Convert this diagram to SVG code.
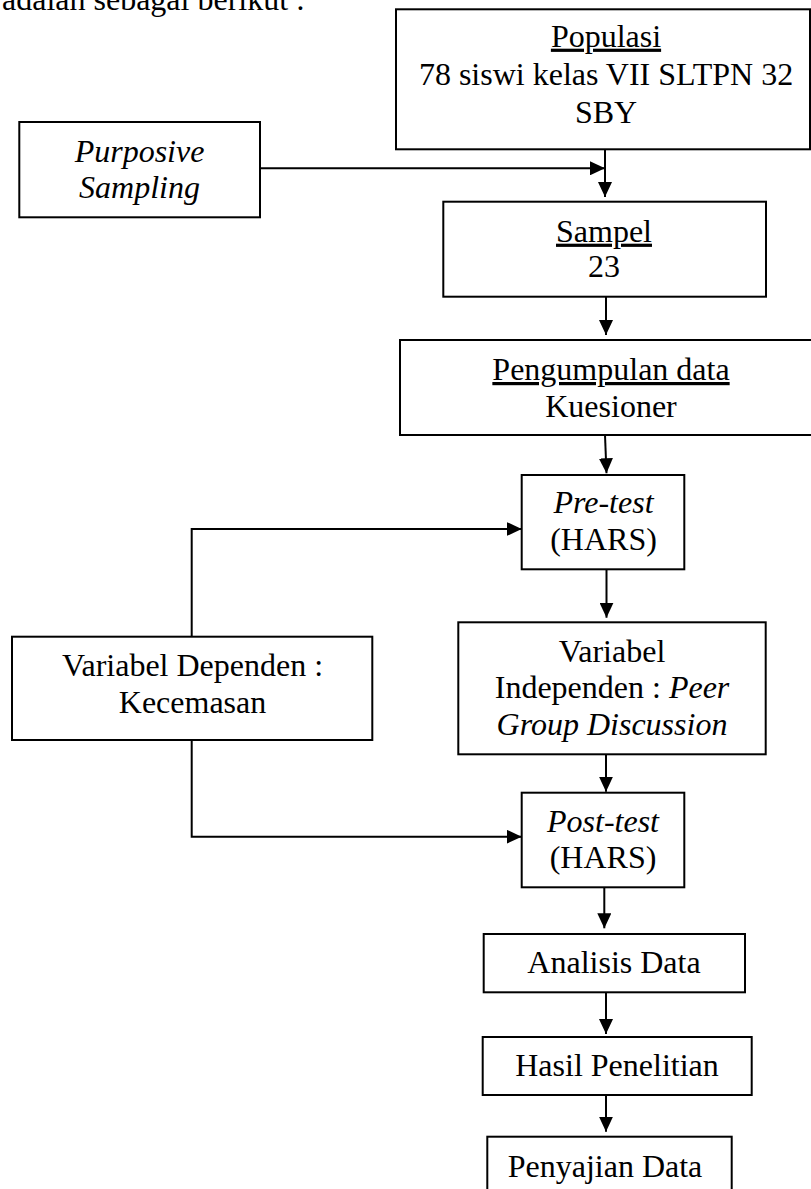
<svg xmlns="http://www.w3.org/2000/svg" width="811" height="1189" viewBox="0 0 811 1189">
  <style>
    .box { fill: #ffffff; stroke: #000000; stroke-width: 2; }
    .t { font-family: "Liberation Serif", "Times New Roman", serif; font-size: 32px; fill: #000000; text-anchor: middle; }
    .i { font-style: italic; }
    .u { text-decoration: underline; }
    .c { fill: none; stroke: #000000; stroke-width: 2; marker-end: url(#arrow); }
    .cn { fill: none; stroke: #000000; stroke-width: 2; }
  </style>
  <defs>
    <marker id="arrow" markerUnits="userSpaceOnUse" markerWidth="15" markerHeight="14" refX="15" refY="7" orient="auto">
      <path d="M0,0 L15,7 L0,14 z" fill="#000000"/>
    </marker>
  </defs>
  <rect width="811" height="1189" fill="#ffffff"/>
  <text class="t" x="2" y="10" style="text-anchor:start">adalah sebagai berikut :</text>

  <g id="connectors">
    <path class="c" d="M260,168.3 H605"/>
    <path class="c" d="M605,149.3 V197"/>
    <path class="c" d="M606,296.7 V335"/>
    <path class="c" d="M605,435 L606.5,473.3"/>
    <path class="c" d="M191.7,636.7 V529 H521.7"/>
    <path class="c" d="M606.5,569.3 V617.7"/>
    <path class="c" d="M606,754.3 V791.7"/>
    <path class="c" d="M191.7,740 V836.7 H521.7"/>
    <path class="c" d="M604.3,887.3 V928.3"/>
    <path class="c" d="M606,992.3 V1034"/>
    <path class="c" d="M606,1095 V1131.7"/>
  </g>

  <g id="populasi">
    <rect class="box" x="396" y="9.3" width="414" height="140"/>
    <text class="t" x="606" y="46.7"><tspan class="u">Populasi</tspan></text>
    <text class="t" x="606" y="85">78 siswi kelas VII SLTPN 32</text>
    <text class="t" x="606" y="123.3">SBY</text>
  </g>

  <g id="purposive">
    <rect class="box" x="19.3" y="122" width="240.7" height="95.3"/>
    <text class="t i" x="139.5" y="161.7">Purposive</text>
    <text class="t i" x="139.5" y="198.3">Sampling</text>
  </g>

  <g id="sampel">
    <rect class="box" x="443.3" y="201.7" width="322.7" height="95"/>
    <text class="t" x="604" y="241.7"><tspan class="u">Sampel</tspan></text>
    <text class="t" x="604" y="277.3">23</text>
  </g>

  <g id="pengumpulan">
    <rect class="box" x="400" y="340" width="420" height="95"/>
    <text class="t" x="611" y="380"><tspan class="u">Pengumpulan data</tspan></text>
    <text class="t" x="611" y="416.7">Kuesioner</text>
  </g>

  <g id="pretest">
    <rect class="box" x="521.7" y="475" width="162.6" height="94.3"/>
    <text class="t i" x="603.5" y="513.3">Pre-test</text>
    <text class="t" x="603.5" y="550">(HARS)</text>
  </g>

  <g id="dependen">
    <rect class="box" x="12" y="636.7" width="360.3" height="103.3"/>
    <text class="t" x="192.5" y="676">Variabel Dependen :</text>
    <text class="t" x="192.5" y="713.3">Kecemasan</text>
  </g>

  <g id="independen">
    <rect class="box" x="458.3" y="622.3" width="307.4" height="132"/>
    <text class="t" x="612" y="661.7">Variabel</text>
    <text class="t" x="612" y="698.3">Independen : <tspan class="i">Peer</tspan></text>
    <text class="t i" x="612" y="735">Group Discussion</text>
  </g>

  <g id="posttest">
    <rect class="box" x="521.7" y="792.7" width="162.6" height="94.6"/>
    <text class="t i" x="603" y="831.7">Post-test</text>
    <text class="t" x="603" y="868">(HARS)</text>
  </g>

  <g id="analisis">
    <rect class="box" x="483.7" y="934" width="261.3" height="58.3"/>
    <text class="t" x="614" y="973.3">Analisis Data</text>
  </g>

  <g id="hasil">
    <rect class="box" x="482.7" y="1037" width="269" height="58"/>
    <text class="t" x="617" y="1076">Hasil Penelitian</text>
  </g>

  <g id="penyajian">
    <rect class="box" x="487.3" y="1136.7" width="244.4" height="70"/>
    <text class="t" x="605" y="1176.7">Penyajian Data</text>
  </g>
</svg>
